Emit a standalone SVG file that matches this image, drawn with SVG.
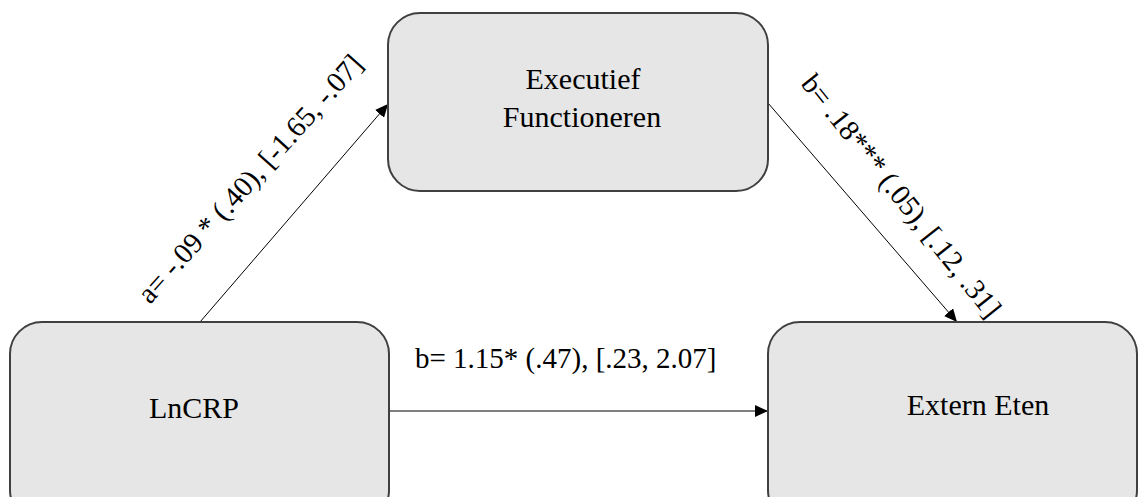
<svg xmlns="http://www.w3.org/2000/svg" width="1138" height="497" viewBox="0 0 1138 497">
<style>
.box{fill:#e6e6e6;stroke:#404040;stroke-width:2}
.conn{stroke:#000;stroke-width:1;fill:none}
</style>
<defs>
<marker id="arr" markerUnits="userSpaceOnUse" markerWidth="14" markerHeight="12" refX="13" refY="6" orient="auto">
<path d="M0,0 L13,6 L0,12 z" fill="#000"/>
</marker>
</defs>
<rect width="1138" height="497" fill="#fff"/>
<g id="connectors">
<line class="conn" x1="200" y1="322" x2="388" y2="104" marker-end="url(#arr)"/>
<line class="conn" x1="768" y1="103" x2="957" y2="322" marker-end="url(#arr)"/>
<line class="conn" x1="389" y1="411" x2="768" y2="411" marker-end="url(#arr)"/>
<g font-family="Liberation Serif, serif" font-size="29" fill="#000">
<text transform="translate(150,305) rotate(-48.2)">a= -.09 * (.40), [-1.65, -.07]</text>
<text transform="translate(800,84) rotate(51.5)">b= .18*** (.05), [.12, .31]</text>
<text x="415" y="368">b= 1.15* (.47), [.23, 2.07]</text>
</g>
</g>
<g id="node-lncrp">
<rect class="box" x="10" y="322" width="379" height="200" rx="32" ry="32"/>
<text x="194" y="418" text-anchor="middle" font-family="Liberation Serif, serif" font-size="30">LnCRP</text>
</g>
<g id="node-executief">
<rect class="box" x="388" y="13" width="380" height="178" rx="32" ry="32"/>
<text x="583" y="89" text-anchor="middle" font-family="Liberation Serif, serif" font-size="30">Executief</text>
<text x="582" y="127" text-anchor="middle" font-family="Liberation Serif, serif" font-size="30">Functioneren</text>
</g>
<g id="node-extern">
<rect class="box" x="768" y="322" width="369" height="200" rx="32" ry="32"/>
<text x="978" y="415" text-anchor="middle" font-family="Liberation Serif, serif" font-size="30">Extern Eten</text>
</g>
</svg>
